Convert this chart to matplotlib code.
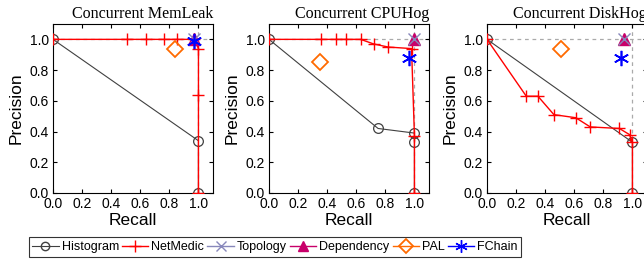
import matplotlib
matplotlib.use("Agg")
import matplotlib.pyplot as plt
from matplotlib.lines import Line2D

titles = ["Concurrent MemLeak", "Concurrent CPUHog", "Concurrent DiskHog"]

hist_x = [[0.0, 1.0, 1.0], [0.0, 0.75, 1.0, 1.0, 1.0], [0.0, 1.0, 1.0]]
hist_y = [[1.0, 0.34, 0.0], [1.0, 0.42, 0.39, 0.33, 0.0], [1.0, 0.33, 0.0]]

net_x = [[0.0, 0.51, 0.64, 0.76, 0.85, 0.97, 1.0, 1.0, 1.0],
         [0.0, 0.36, 0.46, 0.53, 0.63, 0.72, 0.82, 0.98, 1.0, 1.0],
         [0.0, 0.27, 0.35, 0.46, 0.61, 0.71, 0.91, 0.98, 1.0, 1.0]]
net_y = [[1.0, 1.0, 1.0, 1.0, 1.0, 1.0, 0.94, 0.64, 0.0],
         [1.0, 1.0, 1.0, 1.0, 1.0, 0.97, 0.95, 0.94, 0.37, 0.0],
         [1.0, 0.63, 0.63, 0.51, 0.49, 0.43, 0.42, 0.38, 0.33, 0.0]]

topo_x = [0.97, 1.0, 0.94]
topo_y = [1.0, 1.0, 1.0]
dep_x = [0.97, 1.0, 0.94]
dep_y = [1.0, 1.0, 1.0]
pal_x = [0.84, 0.35, 0.51]
pal_y = [0.94, 0.85, 0.94]
fch_x = [0.97, 0.96, 0.92]
fch_y = [0.99, 0.88, 0.88]

xticks = [0.0, 0.2, 0.4, 0.6, 0.8, 1.0]
yticks = [0.0, 0.2, 0.4, 0.6, 0.8, 1.0]

c_hist = "#404040"
c_net = "#FF0000"
c_topo = "#8888BB"
c_dep = "#C8006A"
c_pal = "#FF6A00"
c_fch = "#0000FF"

fig = plt.figure(figsize=(6.44, 2.63), dpi=100)
lefts = [53 / 644, 269 / 644, 487 / 644]
W = 160 / 644
B = 1 - 193 / 263
H = (193 - 24) / 263

for i in range(3):
    ax = fig.add_axes([lefts[i], B, W, H])
    ax.set_xlim(0, 1.1)
    ax.set_ylim(0, 1.1)
    ax.axhline(1.0, color="#AAAAAA", ls=(0, (3, 3)), lw=0.9, zorder=0)
    ax.axvline(1.0, color="#AAAAAA", ls=(0, (3, 3)), lw=0.9, zorder=0)
    ax.plot(hist_x[i], hist_y[i], color=c_hist, lw=0.8, marker="o", ms=7,
            mfc="none", mec=c_hist, mew=0.9, zorder=3)
    ax.plot(net_x[i], net_y[i], color=c_net, lw=1.0, marker="+", ms=9,
            mew=1.0, zorder=4)
    ax.plot(dep_x[i], dep_y[i], ls="none", marker="^", ms=8, color=c_dep, zorder=5)
    ax.plot(topo_x[i], topo_y[i], ls="none", marker="x", ms=8, color=c_topo, mew=1.0, zorder=6)
    ax.plot(pal_x[i], pal_y[i], ls="none", marker="D", ms=8, mfc="none", mec=c_pal, mew=1.3, zorder=5)
    ax.plot(fch_x[i], fch_y[i], ls="none", marker=(6, 2, 0), ms=11, color=c_fch, mew=1.2, zorder=7)
    ax.set_xticks(xticks)
    ax.set_yticks(yticks)
    ax.set_xticklabels([f"{v:.1f}" for v in xticks], fontsize=10, family="Liberation Sans")
    ax.set_yticklabels([f"{v:.1f}" for v in yticks], fontsize=10, family="Liberation Sans")
    ax.tick_params(direction="in", top=True, right=True, length=3, width=0.8, pad=3)
    ax.set_xlabel("Recall", fontsize=12.5, family="Liberation Sans", labelpad=1)
    ax.set_ylabel("Precision", fontsize=12.5, family="Liberation Sans", labelpad=4)
    for s in ax.spines.values():
        s.set_linewidth(0.8)
    ax.set_title(titles[i], fontsize=11.5, family="Liberation Serif", loc="right", pad=4)

handles = [
    Line2D([], [], color=c_hist, lw=0.8, marker="o", ms=6, mfc="none", mec=c_hist),
    Line2D([], [], color=c_net, lw=1.0, marker="+", ms=8),
    Line2D([], [], color=c_topo, lw=1.0, marker="x", ms=7),
    Line2D([], [], color=c_dep, lw=1.0, marker="^", ms=7),
    Line2D([], [], color=c_pal, lw=1.0, marker="D", ms=7, mfc="none", mew=1.3),
    Line2D([], [], color=c_fch, lw=1.0, marker=(6, 2, 0), ms=9),
]
labels = ["Histogram", "NetMedic", "Topology", "Dependency", "PAL", "FChain"]
leg = fig.legend(handles, labels, loc="center", bbox_to_anchor=(275 / 644, 1 - 247 / 263),
                 ncol=6, frameon=True, fancybox=False, edgecolor="black",
                 prop={"family": "Liberation Sans", "size": 9}, handlelength=2.1,
                 handletextpad=0.25, columnspacing=0.25, borderpad=0.3, borderaxespad=0)
leg.get_frame().set_linewidth(0.8)

fig.savefig("out.png", dpi=100)
